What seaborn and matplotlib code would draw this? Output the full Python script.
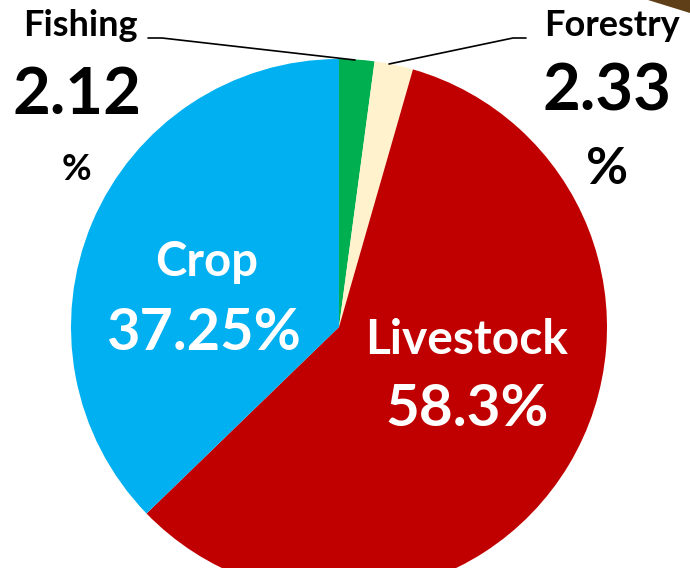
import matplotlib
matplotlib.use("Agg")
import matplotlib.pyplot as plt
import seaborn as sns
from matplotlib.patches import Polygon

# slices, clockwise from 12 o'clock
sectors = ["Fishing", "Forestry", "Livestock", "Crop"]
shares = [2.12, 2.33, 58.3, 37.25]
colors = ["#00B050", "#FFF2CC", "#C00000", "#00B0F0"]

W, H = 690, 568

sns.set_style("white")
plt.rcParams['font.family'] = ['Lato', 'DejaVu Sans']

fig = plt.figure(figsize=(W / 100, H / 100), dpi=100)
ax = fig.add_axes([0, 0, 1, 1])

ax.pie(shares, colors=colors, startangle=90, counterclock=False,
       center=(339, H - 327), radius=268, frame=True,
       wedgeprops=dict(linewidth=0))
ax.set_xlim(0, W)
ax.set_ylim(0, H)
ax.set_aspect("equal")
ax.axis("off")

def y(p):
    return H - p

# inside labels
ax.text(207, y(262), sectors[3], color="white", fontsize=34, fontweight="bold",
        ha="center", va="center")
ax.text(203, y(333), f"{shares[3]}%", color="white", fontsize=41.5, fontweight="bold",
        ha="center", va="center")
ax.text(467, y(340), sectors[2], color="white", fontsize=34.5, fontweight="bold",
        ha="center", va="center")
ax.text(467, y(410), f"{shares[2]}%", color="white", fontsize=42, fontweight="bold",
        ha="center", va="center")

# outside labels
ax.text(80, y(26), sectors[0], color="black", fontsize=26, fontweight="bold",
        ha="center", va="center")
ax.text(77, y(96), f"{shares[0]}", color="black", fontsize=47, fontweight="bold",
        ha="center", va="center")
ax.text(76, y(169), "%", color="black", fontsize=26, fontweight="bold",
        ha="center", va="center")
ax.text(612, y(26), sectors[1], color="black", fontsize=26, fontweight="bold",
        ha="center", va="center")
ax.text(607, y(92), f"{shares[1]}", color="black", fontsize=47, fontweight="bold",
        ha="center", va="center")
ax.text(607, y(170), "%", color="black", fontsize=37, fontweight="bold",
        ha="center", va="center")

# leader lines
ax.plot([148, 162, 355], [y(38), y(38), y(60)], color="black", lw=1.2)
ax.plot([389, 513, 526], [y(64), y(38), y(38)], color="black", lw=1.2)

# brown corner piece
ax.add_patch(Polygon([(648, H), (W, H), (W, y(13))], closed=True,
                     facecolor="#5E3F17", edgecolor="none"))

fig.savefig("out.png", dpi=100)
